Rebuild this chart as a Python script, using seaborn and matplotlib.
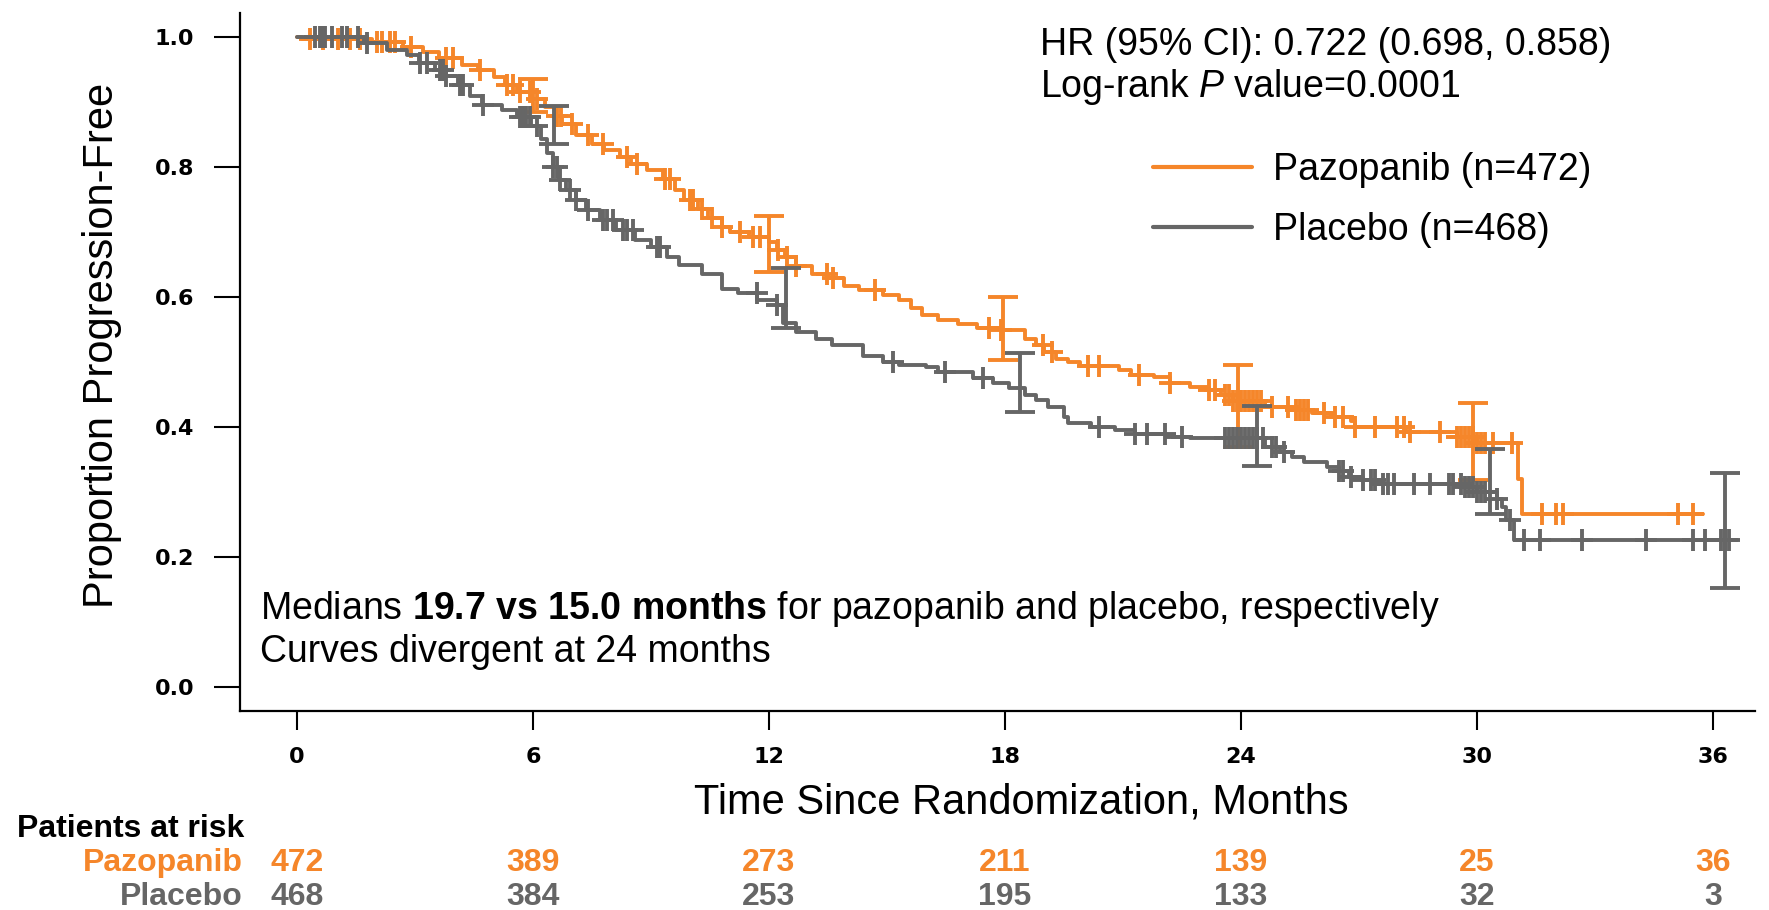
import numpy as np
import matplotlib
matplotlib.use('Agg')
import matplotlib.pyplot as plt
import seaborn as sns

# ---------------- data ----------------
month_ticks = [0, 6, 12, 18, 24, 30, 36]
prop_ticks = [0.0, 0.2, 0.4, 0.6, 0.8, 1.0]

# Pazopanib KM step points (time of drop, survival after drop)
pazo_t = [0, 0.12, 1.9, 2.7, 3.2, 3.6, 4.2, 4.6, 5.0, 5.3, 5.6, 5.95, 6.3, 6.55, 6.75,
          7.1, 7.5, 7.8, 8.2, 8.5, 8.9, 9.3, 9.6, 9.85, 10.2, 10.45, 10.8, 11.0, 11.5,
          12.0, 12.2, 12.4, 12.7, 13.1, 13.5, 13.9, 14.3, 14.9, 15.3, 15.6, 15.9, 16.3,
          16.8, 17.3, 17.9, 18.5, 18.8, 19.0, 19.3, 19.6, 19.9, 20.9, 21.2, 21.8, 22.2,
          22.7, 23.2, 23.5, 23.8, 24.6, 25.3, 25.8, 26.3, 26.8, 26.9, 28.2, 29.5, 30.0,
          31.05, 31.15]
pazo_s = [1.0, 0.997, 0.993, 0.985, 0.977, 0.968, 0.957, 0.949, 0.939, 0.927, 0.916, 0.905,
          0.893, 0.878, 0.866, 0.850, 0.836, 0.826, 0.815, 0.805, 0.796, 0.782, 0.765, 0.750,
          0.735, 0.722, 0.708, 0.700, 0.693, 0.685, 0.672, 0.662, 0.648, 0.636, 0.629, 0.617,
          0.611, 0.603, 0.595, 0.584, 0.572, 0.565, 0.558, 0.553, 0.549, 0.536, 0.526, 0.515,
          0.505, 0.500, 0.494, 0.488, 0.480, 0.477, 0.468, 0.462, 0.457, 0.449, 0.440, 0.431,
          0.427, 0.421, 0.415, 0.410, 0.400, 0.393, 0.385, 0.375, 0.320, 0.266]
pazo_end = 35.75

# Placebo KM step points
plac_t = [0, 1.7, 2.3, 2.8, 3.1, 3.5, 3.8, 4.1, 4.4, 4.7, 5.2, 5.6, 5.95, 6.2, 6.35, 6.5,
          6.65, 6.85, 7.1, 7.35, 7.7, 8.1, 8.6, 9.0, 9.4, 9.7, 10.3, 10.8, 11.2, 11.7, 12.2,
          12.35, 12.7, 13.2, 13.6, 14.4, 14.9, 15.3, 16.0, 16.3, 17.2, 17.7, 18.1, 18.5, 18.8,
          19.1, 19.5, 19.6, 20.2, 20.8, 21.3, 22.1, 22.7, 24.6, 25.0, 25.3, 25.6, 26.2, 26.5,
          26.75, 27.1, 27.5, 27.9, 29.7, 30.0, 30.5, 30.65, 30.75, 30.95]
plac_s = [1.0, 0.991, 0.981, 0.972, 0.960, 0.950, 0.940, 0.927, 0.910, 0.895, 0.888, 0.877,
          0.863, 0.843, 0.822, 0.801, 0.780, 0.765, 0.749, 0.734, 0.718, 0.703, 0.688, 0.677,
          0.662, 0.649, 0.636, 0.612, 0.606, 0.595, 0.588, 0.560, 0.547, 0.536, 0.526, 0.510,
          0.500, 0.495, 0.492, 0.485, 0.476, 0.468, 0.460, 0.450, 0.442, 0.431, 0.416, 0.407,
          0.400, 0.395, 0.389, 0.385, 0.383, 0.370, 0.362, 0.354, 0.346, 0.339, 0.333, 0.323,
          0.318, 0.313, 0.312, 0.308, 0.300, 0.290, 0.277, 0.257, 0.227]
plac_end = 36.6

# censoring times
pazo_cens = [0.33, 0.66, 1.04, 1.35, 1.6, 2.03, 2.15, 2.36, 2.5, 2.9, 3.8, 3.97, 4.65, 5.33,
             5.5, 5.67, 5.92, 6.1, 6.6, 6.7, 7.0, 7.4, 7.78, 8.4, 8.64, 9.36, 9.48, 9.99,
             10.07, 10.3, 10.55, 10.8, 11.26, 11.6, 11.77, 12.23, 12.46, 12.7, 13.47, 13.63,
             14.7, 17.6, 17.9, 18.97, 19.2, 20.1, 20.4, 21.4, 22.2, 23.2, 23.35, 23.6, 23.7,
             23.8, 23.9, 24.0, 24.1, 24.2, 24.3, 24.4, 24.5, 24.8, 25.2, 25.4, 25.5, 25.6,
             25.7, 26.1, 26.4, 26.6, 26.9, 27.4, 27.96, 28.15, 28.3, 29.06, 29.5, 29.6, 29.7,
             29.8, 29.9, 30.0, 30.1, 30.2, 30.4, 30.9, 31.65, 32.0, 32.2, 35.1, 35.5]
plac_cens = [0.45, 0.58, 0.65, 0.71, 0.88, 1.14, 1.26, 1.56, 1.77, 3.13, 3.3, 3.64, 3.72, 3.8,
             4.14, 4.23, 4.74, 5.67, 5.75, 5.83, 5.92, 6.1, 6.5, 6.6, 6.69, 6.94, 7.1, 7.4,
             7.78, 7.87, 8.04, 8.3, 8.4, 8.55, 9.15, 9.23, 11.69, 12.2, 15.16, 16.48, 17.45,
             20.4, 21.3, 21.6, 22.07, 22.5, 23.6, 23.7, 23.8, 23.9, 24.0, 24.1, 24.2, 24.3,
             24.4, 24.56, 24.8, 24.9, 25.1, 26.5, 26.6, 26.8, 27.1, 27.3, 27.4, 27.6, 27.75,
             27.9, 28.4, 28.8, 29.3, 29.4, 29.6, 29.7, 29.8, 29.9, 30.0, 30.1, 30.2, 30.5,
             30.85, 31.2, 31.6, 32.66, 34.3, 35.5, 35.8, 36.2, 36.3, 36.4]

# 95% CI bars
pazo_ci_t = [6.0, 12.0, 17.95, 23.93, 29.9]
pazo_ci_lo = [0.885, 0.638, 0.503, 0.370, 0.318]
pazo_ci_hi = [0.935, 0.725, 0.600, 0.495, 0.437]
plac_ci_t = [6.53, 12.43, 18.38, 24.4, 30.33, 36.3]
plac_ci_lo = [0.835, 0.552, 0.423, 0.340, 0.266, 0.153]
plac_ci_hi = [0.894, 0.645, 0.514, 0.433, 0.366, 0.330]

risk_pazo = [472, 389, 273, 211, 139, 25, 36]
risk_plac = [468, 384, 253, 195, 133, 32, 3]

ORANGE = '#F5862A'
GREY = '#666666'

# ---------------- style ----------------
sns.set_style('white')
plt.rcParams['font.family'] = ['Liberation Sans', 'DejaVu Sans']
plt.rcParams['text.color'] = 'black'
plt.rcParams['axes.labelcolor'] = 'black'
plt.rcParams['mathtext.fontset'] = 'custom'
plt.rcParams['mathtext.rm'] = 'Liberation Sans'
plt.rcParams['mathtext.it'] = 'Liberation Sans:italic'
plt.rcParams['mathtext.bf'] = 'Liberation Sans:bold'

W, H = 1769, 910
fig = plt.figure(figsize=(W / 100, H / 100), dpi=100)
ax = fig.add_axes([240 / W, 1 - 711 / H, (1755 - 240) / W, (711 - 13.5) / H])


def km_curve(t, s, end, cens, ci_t, ci_lo, ci_hi, color, label):
    tt = np.array(list(t) + [end])
    ss = np.array(list(s) + [s[-1]])
    sns.lineplot(x=tt, y=ss, drawstyle='steps-post', color=color, lw=2.8,
                 estimator=None, sort=False, ax=ax, label=label)
    c = np.array(cens)
    idx = np.searchsorted(tt, c, side='right') - 1
    ax.plot(c, ss[idx], ls='none', marker='+', ms=16, mew=2.8, color=color)
    lo = np.array(ci_lo)
    hi = np.array(ci_hi)
    mid = (lo + hi) / 2
    ax.errorbar(ci_t, mid, yerr=(hi - lo) / 2, fmt='none', ecolor=color,
                elinewidth=2.8, capsize=11, capthick=2.8)


km_curve(pazo_t, pazo_s, pazo_end, pazo_cens, pazo_ci_t, pazo_ci_lo, pazo_ci_hi,
         ORANGE, 'Pazopanib (n=472)')
km_curve(plac_t, plac_s, plac_end, plac_cens, plac_ci_t, plac_ci_lo, plac_ci_hi,
         GREY, 'Placebo (n=468)')

ax.set_xlim(-1.449, 37.07)
ax.set_ylim(-0.0369, 1.0365)
sns.despine(ax=ax)
for sp in ('left', 'bottom'):
    ax.spines[sp].set_linewidth(1.6)
    ax.spines[sp].set_color('black')

ax.set_xticks(month_ticks)
ax.set_xticklabels([str(m) for m in month_ticks])
ax.set_yticks(prop_ticks)
ax.set_yticklabels([f'{v:.1f}' for v in prop_ticks])
ax.tick_params(axis='y', which='major', left=True, direction='out', length=19, width=1.5,
               pad=14, colors='black')
ax.tick_params(axis='x', which='major', bottom=True, direction='out', length=14, width=1.5,
               pad=12, colors='black')
for lab in ax.get_yticklabels() + ax.get_xticklabels():
    lab.set_fontfamily('DejaVu Sans')
    lab.set_fontweight('bold')
    lab.set_fontsize(16)

ax.set_xlabel('Time Since Randomization, Months', fontsize=30)
ax.xaxis.set_label_coords(0.5155, -0.1305)
ax.xaxis.label.set_va('center')
ax.set_ylabel('Proportion Progression-Free', fontsize=30)
ax.yaxis.set_label_coords(-0.0914, 0.524)
ax.yaxis.label.set_va('center')

leg = ax.legend(loc='center left', bbox_to_anchor=(0.6026, 0.7327), frameon=False,
                fontsize=27, handlelength=2.64, handletextpad=0.56, labelspacing=0.63,
                borderpad=0, borderaxespad=0)
for line in leg.get_lines():
    line.set_linewidth(3)

fig.text(1040 / W, 1 - 45 / H, 'HR (95% CI): 0.722 (0.698, 0.858)', fontsize=27,
         va='center', ha='left')
fig.text(1040 / W, 1 - 87 / H, r'Log-rank $\it{P}$ value=0.0001', fontsize=27,
         va='center', ha='left')
fig.text(259.5 / W, 1 - 609 / H,
         r'Medians $\bf{19.7\ vs\ 15.0\ months}$ for pazopanib and placebo, respectively',
         fontsize=27, va='center', ha='left')
fig.text(259.5 / W, 1 - 652 / H, 'Curves divergent at 24 months', fontsize=27,
         va='center', ha='left')

# risk table
fig.text(17 / W, 1 - 829 / H, 'Patients at risk', fontsize=23, fontweight='bold',
         va='center', ha='left', color='black')
fig.text(243 / W, 1 - 863 / H, 'Pazopanib', fontsize=23, fontweight='bold',
         color=ORANGE, va='center', ha='right')
fig.text(243 / W, 1 - 897 / H, 'Placebo', fontsize=23, fontweight='bold',
         color=GREY, va='center', ha='right')
trans = ax.get_xaxis_transform()
for m, a, b in zip(month_ticks, risk_pazo, risk_plac):
    ax.text(m, (711 - 863) / 697.5, str(a), transform=trans, fontsize=23,
            fontweight='bold', color=ORANGE, ha='center', va='center')
    ax.text(m, (711 - 897) / 697.5, str(b), transform=trans, fontsize=23,
            fontweight='bold', color=GREY, ha='center', va='center')

fig.savefig('out.png', dpi=100)
